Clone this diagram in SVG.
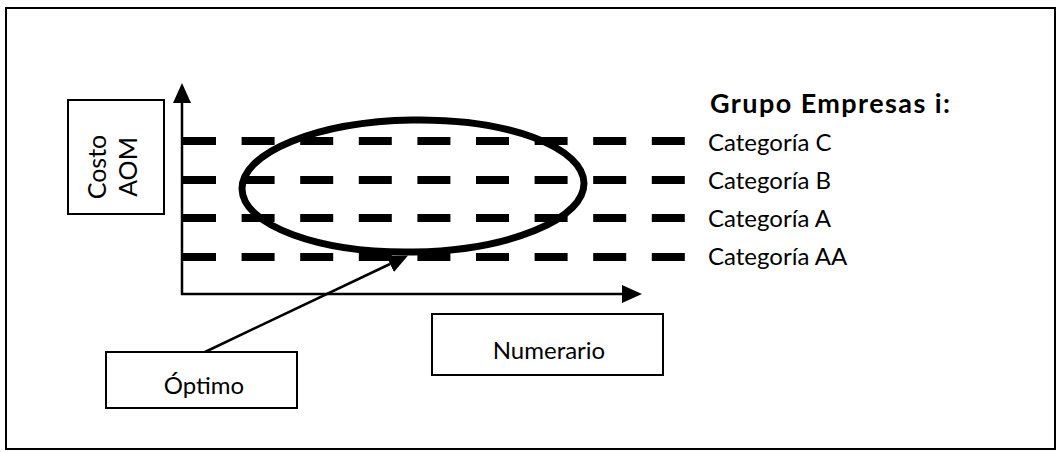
<svg xmlns="http://www.w3.org/2000/svg" width="1060" height="452" viewBox="0 0 1060 452">
  <style>
    .box { fill: #fff; stroke: #000; stroke-width: 2; }
    .lbl { font-family: Lato, "Open Sans", "Liberation Sans", sans-serif; font-size: 24px; fill: #000; }
    .head { font-weight: bold; font-size: 27px; }
    .vert { font-size: 25px; }
    .axis { stroke: #000; stroke-width: 2.5; fill: none; }
    .level { stroke: #000; stroke-width: 8; stroke-dasharray: 33 25.6; fill: none; }
    .ring { stroke: #000; stroke-width: 7; fill: none; }
    .ptr { stroke: #000; stroke-width: 2.5; fill: none; }
  </style>
  <defs>
    <marker id="tri" viewBox="0 0 20 18" refX="0" refY="9" markerWidth="20" markerHeight="18" markerUnits="userSpaceOnUse" orient="auto">
      <path d="M0,0 L20,9 L0,18 Z" fill="#000"/>
    </marker>
  </defs>

  <!-- outer frame -->
  <rect x="6" y="8" width="1049" height="441" fill="#fff" stroke="#000" stroke-width="2"/>

  <g id="connectors">
    <!-- axes -->
    <path class="axis" d="M182,295 L182,103" marker-end="url(#tri)"/>
    <path class="axis" d="M181,294 L622,294" marker-end="url(#tri)"/>
    <!-- category levels -->
    <path class="level" d="M183,141 H686"/>
    <path class="level" d="M183,180 H686"/>
    <path class="level" d="M183,218 H686"/>
    <path class="level" d="M183,257 H686"/>
    <!-- optimum region -->
    <ellipse class="ring" cx="413" cy="186" rx="171" ry="66" transform="rotate(-1 413 186)"/>
    <!-- pointer to optimum -->
    <path class="ptr" d="M205,352 L390,264" marker-end="url(#tri)"/>
  </g>

  <g id="costo-aom">
    <rect class="box" x="68" y="100" width="96" height="114"/>
    <text class="lbl vert" transform="translate(106,167) rotate(-90)" text-anchor="middle">Costo</text>
    <text class="lbl vert" transform="translate(137,167) rotate(-90)" text-anchor="middle">AOM</text>
  </g>

  <g id="numerario">
    <rect class="box" x="432" y="314" width="231" height="61"/>
    <text class="lbl" x="549" y="359" text-anchor="middle">Numerario</text>
  </g>

  <g id="optimo">
    <rect class="box" x="106" y="352" width="191" height="56"/>
    <text class="lbl" x="204" y="394" text-anchor="middle">Óptimo</text>
  </g>

  <g id="legend">
    <text class="lbl head" x="710" y="113" textLength="240" lengthAdjust="spacing">Grupo Empresas i:</text>
    <text class="lbl" x="708" y="151">Categoría C</text>
    <text class="lbl" x="708" y="189">Categoría B</text>
    <text class="lbl" x="708" y="227">Categoría A</text>
    <text class="lbl" x="708" y="265">Categoría AA</text>
  </g>
</svg>
